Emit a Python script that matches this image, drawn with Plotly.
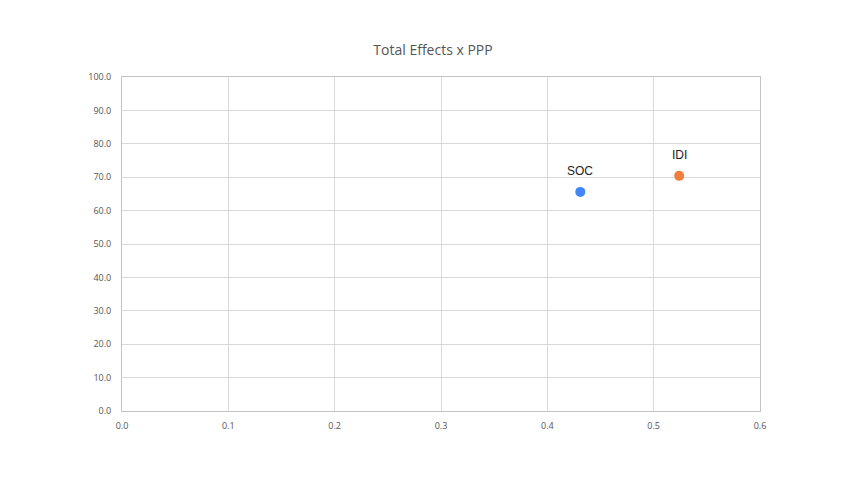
import plotly.graph_objects as go

names = ["SOC", "IDI"]
ppp = [0.431, 0.524]
total_effects = [65.6, 70.4]
colors = ["#4285F4", "#EF7F3B"]

x_ticks = [0.0, 0.1, 0.2, 0.3, 0.4, 0.5, 0.6]
y_ticks = [0, 10, 20, 30, 40, 50, 60, 70, 80, 90, 100]

fig = go.Figure()
for n, xv, yv, c in zip(names, ppp, total_effects, colors):
    fig.add_trace(go.Scatter(
        x=[xv], y=[yv], mode="markers",
        marker=dict(size=10, color=c),
        name=n, showlegend=False, cliponaxis=False,
    ))
    fig.add_annotation(
        x=xv, y=yv, text=n, showarrow=False, yshift=21,
        font=dict(family="Liberation Sans, Arial", size=12, color="#222222"),
    )

fig.update_layout(
    width=850, height=478,
    paper_bgcolor="white", plot_bgcolor="white",
    margin=dict(l=114, r=98, t=69, b=75),
    title=dict(text="Total Effects x PPP", x=0.5, xanchor="center",
               y=1 - 42 / 478, yanchor="middle",
               font=dict(family="Open Sans", size=14, color="#555555")),
)
fig.update_xaxes(
    range=[0, 0.6], tickvals=x_ticks, ticktext=[f"{v:.1f}" for v in x_ticks],
    showgrid=True, gridcolor="#d9d9d9", gridwidth=1,
    showline=True, linecolor="#c4c4c4", linewidth=1, mirror=True,
    zeroline=False, ticks="", ticklabelstandoff=6,
    tickfont=dict(family="Open Sans", size=9, color="#555555"),
)
fig.update_yaxes(
    range=[0, 100], tickvals=y_ticks, ticktext=[f"{v:.1f}" for v in y_ticks],
    showgrid=True, gridcolor="#d9d9d9", gridwidth=1,
    showline=True, linecolor="#c4c4c4", linewidth=1, mirror=True,
    zeroline=False, ticks="", ticklabelstandoff=8,
    tickfont=dict(family="Open Sans", size=9, color="#555555"),
)

fig.write_html("out.html")
